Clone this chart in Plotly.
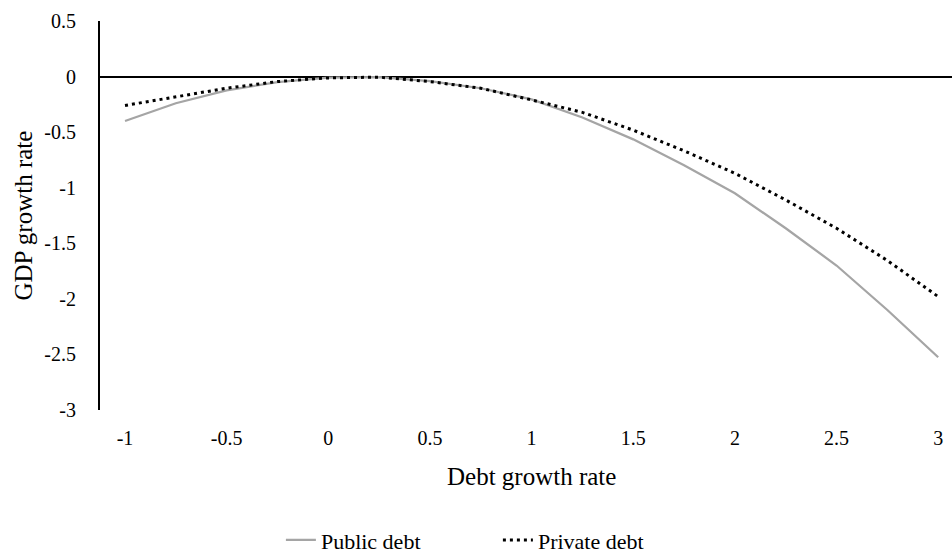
import plotly.graph_objects as go

debt_growth = [-1, -0.75, -0.5, -0.25, 0, 0.25, 0.5, 0.75, 1, 1.25, 1.5, 1.75, 2, 2.25, 2.5, 2.75, 3]
public_debt = [-0.40, -0.24, -0.125, -0.05, -0.01, -0.005, -0.04, -0.105, -0.205, -0.368,
               -0.565, -0.797, -1.05, -1.365, -1.70, -2.10, -2.525]
private_debt = [-0.26, -0.18, -0.105, -0.045, -0.012, -0.005, -0.045, -0.105, -0.21, -0.322,
                -0.482, -0.668, -0.87, -1.11, -1.365, -1.655, -1.98]
x_ticks = [-1, -0.5, 0, 0.5, 1, 1.5, 2, 2.5, 3]
y_ticks = [0.5, 0, -0.5, -1, -1.5, -2, -2.5, -3]

FONT = "Liberation Serif"

fig = go.Figure()
fig.add_trace(go.Scatter(x=debt_growth, y=public_debt, mode="lines", name="Public debt",
                         line=dict(color="#A5A5A5", width=2.25)))
fig.add_trace(go.Scatter(x=debt_growth, y=private_debt, mode="lines", name="Private debt",
                         line=dict(color="#000000", width=3, dash="3px,4px")))

fig.update_layout(
    width=952, height=554,
    margin=dict(l=100, r=0, t=21, b=144),
    paper_bgcolor="white", plot_bgcolor="white",
    font=dict(family=FONT, size=20, color="#000000"),
    showlegend=True,
    legend=dict(orientation="h", xref="container", yref="container",
                x=0.523, xanchor="center", y=0.025, yanchor="middle",
                font=dict(family=FONT, size=22), entrywidth=172, entrywidthmode="pixels"),
    xaxis=dict(range=[-1.123, 3.068], tickvals=x_ticks, ticktext=[str(v) for v in x_ticks],
               showgrid=False, showline=False, zeroline=False,
               ticks="", ticklabelstandoff=14,
               tickfont=dict(family=FONT, size=20)),
    yaxis=dict(range=[-3, 0.5], tickvals=y_ticks, ticktext=[str(v) for v in y_ticks],
               showgrid=False, showline=True, linecolor="#000000", linewidth=2,
               zeroline=True, zerolinecolor="#000000", zerolinewidth=2,
               ticks="", ticklabelstandoff=18,
               tickfont=dict(family=FONT, size=20)),
    annotations=[
        dict(text="Debt growth rate", xref="paper", yref="paper", x=(531 - 100) / 852,
             y=(410 - 476) / 389, xanchor="center", yanchor="middle", showarrow=False,
             font=dict(family=FONT, size=25)),
        dict(text="GDP growth rate", xref="paper", yref="paper", x=(23 - 100) / 852,
             y=0.5, xanchor="center", yanchor="middle", textangle=-90, showarrow=False,
             font=dict(family=FONT, size=25)),
    ],
)

fig.write_html("out.html", config={"displayModeBar": False},
               post_script="document.body.style.margin='0';document.body.style.overflow='hidden';")
